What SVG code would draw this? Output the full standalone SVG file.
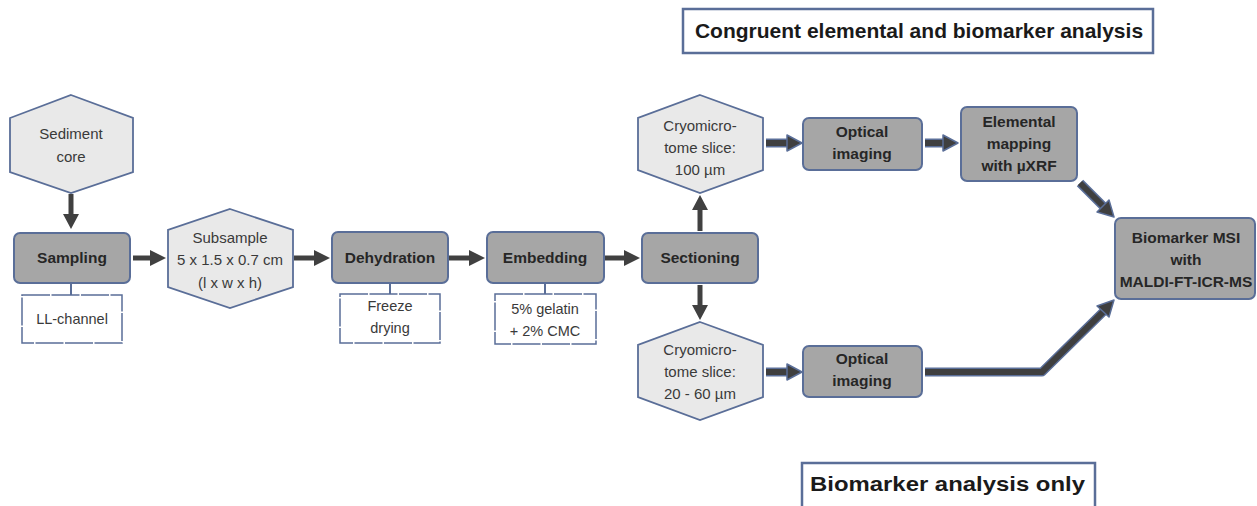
<svg xmlns="http://www.w3.org/2000/svg" width="1257" height="506" viewBox="0 0 1257 506">
<style>
.box{fill:#a6a6a6;stroke:#5a6e98;stroke-width:2}
.hex{fill:#e9e9e9;stroke:#5a6e98;stroke-width:1.8}
.note{fill:#fff;stroke:#5a6e98;stroke-width:1.5;stroke-dasharray:28 1.5}
.tie{stroke:#5a6e98;stroke-width:2}
.bl{font-family:"Liberation Sans",Arial,sans-serif;font-weight:bold;font-size:15.5px;fill:#262626;text-anchor:middle}
.hl{font-family:"Liberation Sans",Arial,sans-serif;font-size:15px;fill:#3a3a3a;text-anchor:middle}
.nl{font-family:"Liberation Sans",Arial,sans-serif;font-size:14.5px;fill:#3a3a3a;text-anchor:middle}
.title{font-family:"Liberation Sans",Arial,sans-serif;font-weight:bold;font-size:21px;fill:#1a1a1a}
.frame{fill:#fff;stroke:#5a6e98;stroke-width:2.5}
.sh{stroke:#404040;stroke-width:5;fill:none}
.ah{fill:#404040}
.bo{stroke:#5a6e98;stroke-width:9;fill:none;stroke-linejoin:round}
.bi{stroke:#3f3f3f;stroke-width:6;fill:none;stroke-linejoin:round}
.bh{fill:#3f3f3f;stroke:#5a6e98;stroke-width:1.5;stroke-linejoin:round}
</style>
<g id="title-top"><rect class="frame" x="683" y="9" width="470" height="44"/><text class="title" x="919" y="38" text-anchor="middle">Congruent elemental and biomarker analysis</text></g>
<g id="title-bottom"><rect class="frame" x="802" y="463" width="293" height="50"/><text class="title" x="810" y="491" textLength="275" lengthAdjust="spacingAndGlyphs">Biomarker analysis only</text></g>

<g id="connectors">
<line class="sh" x1="71" y1="194" x2="71" y2="216"/><polygon class="ah" points="63,214 79,214 71,229"/>
<line class="sh" x1="133" y1="258" x2="152" y2="258"/><polygon class="ah" points="150,250 150,266 166,258"/>
<line class="sh" x1="294" y1="258" x2="316" y2="258"/><polygon class="ah" points="314,250 314,266 330,258"/>
<line class="sh" x1="449" y1="258" x2="471" y2="258"/><polygon class="ah" points="469,250 469,266 485,258"/>
<line class="sh" x1="605" y1="258" x2="626" y2="258"/><polygon class="ah" points="624,250 624,266 640,258"/>
<line class="sh" x1="700" y1="231" x2="700" y2="208"/><polygon class="ah" points="692,210 708,210 700,195"/>
<line class="sh" x1="700" y1="285" x2="700" y2="307"/><polygon class="ah" points="692,305 708,305 700,320"/>
<line class="tie" x1="71" y1="283" x2="71" y2="295"/>
<line class="tie" x1="390" y1="283" x2="390" y2="294"/>
<line class="tie" x1="545" y1="283" x2="545" y2="294"/>
<path class="bo" d="M766 143 H789"/><path class="bi" d="M766 143 H789"/><polygon class="bh" points="787,135 802,143 787,151"/>
<path class="bo" d="M925 143 H945"/><path class="bi" d="M925 143 H945"/><polygon class="bh" points="943,135 958,143 943,151"/>
<path class="bo" d="M766 372 H789"/><path class="bi" d="M766 372 H789"/><polygon class="bh" points="787,364 802,372 787,380"/>
<path class="bo" d="M1080 183 L1104 207"/><path class="bi" d="M1080 183 L1104 207"/><polygon class="bh" points="1097,212 1114,217 1109,200"/>
<path class="bo" d="M925 372 H1042 L1104 311"/><path class="bi" d="M925 372 H1042 L1104 311"/><polygon class="bh" points="1097,306 1114,300 1109,317"/>
</g>

<g id="sediment-core"><polygon class="hex" points="71,95 133,118 133,172 71,193 10,172 10,118"/><text class="hl" x="71" y="139">Sediment</text><text class="hl" x="71" y="162">core</text></g>
<g id="sampling"><rect class="box" x="14" y="233" width="116" height="50" rx="6"/><text class="bl" x="72" y="263">Sampling</text></g>
<g id="ll-channel"><rect class="note" x="22" y="295" width="100" height="48"/><text class="nl" x="72" y="324">LL-channel</text></g>
<g id="subsample"><polygon class="hex" points="230,209 293,230 293,287 230,308 168,287 168,230"/><text class="hl" x="230" y="243">Subsample</text><text class="hl" x="230" y="265">5 x 1.5 x 0.7 cm</text><text class="hl" x="230" y="288">(l x w x h)</text></g>
<g id="dehydration"><rect class="box" x="332" y="232" width="116" height="51" rx="6"/><text class="bl" x="390" y="263">Dehydration</text></g>
<g id="freeze-drying"><rect class="note" x="340" y="294" width="100" height="49"/><text class="nl" x="390" y="311">Freeze</text><text class="nl" x="390" y="333">drying</text></g>
<g id="embedding"><rect class="box" x="487" y="232" width="117" height="51" rx="6"/><text class="bl" x="545" y="263">Embedding</text></g>
<g id="gelatin"><rect class="note" x="495" y="294" width="101" height="50"/><text class="nl" x="545" y="314">5% gelatin</text><text class="nl" x="545" y="336">+ 2% CMC</text></g>
<g id="sectioning"><rect class="box" x="642" y="233" width="116" height="50" rx="6"/><text class="bl" x="700" y="263">Sectioning</text></g>
<g id="cryo-100"><polygon class="hex" points="700,95 763,118 763,170 700,193 638,170 638,118"/><text class="hl" x="700" y="131">Cryomicro-</text><text class="hl" x="700" y="153">tome slice:</text><text class="hl" x="700" y="175">100 µm</text></g>
<g id="cryo-20-60"><polygon class="hex" points="700,322 763,345 763,397 700,420 638,397 638,345"/><text class="hl" x="700" y="355">Cryomicro-</text><text class="hl" x="700" y="377">tome slice:</text><text class="hl" x="700" y="399">20 - 60 µm</text></g>
<g id="optical-top"><rect class="box" x="803" y="118" width="119" height="52" rx="6"/><text class="bl" x="862" y="137">Optical</text><text class="bl" x="862" y="159">imaging</text></g>
<g id="optical-bottom"><rect class="box" x="803" y="346" width="119" height="51" rx="6"/><text class="bl" x="862" y="364">Optical</text><text class="bl" x="862" y="386">imaging</text></g>
<g id="elemental-mapping"><rect class="box" x="961" y="107" width="116" height="74" rx="6"/><text class="bl" x="1019" y="127">Elemental</text><text class="bl" x="1019" y="149">mapping</text><text class="bl" x="1019" y="171">with µXRF</text></g>
<g id="biomarker-msi"><rect class="box" x="1115" y="218" width="140" height="81" rx="6"/><text class="bl" x="1186" y="243">Biomarker MSI</text><text class="bl" x="1186" y="265">with</text><text class="bl" x="1186" y="287" font-size="14.5">MALDI-FT-ICR-MS</text></g>
</svg>
